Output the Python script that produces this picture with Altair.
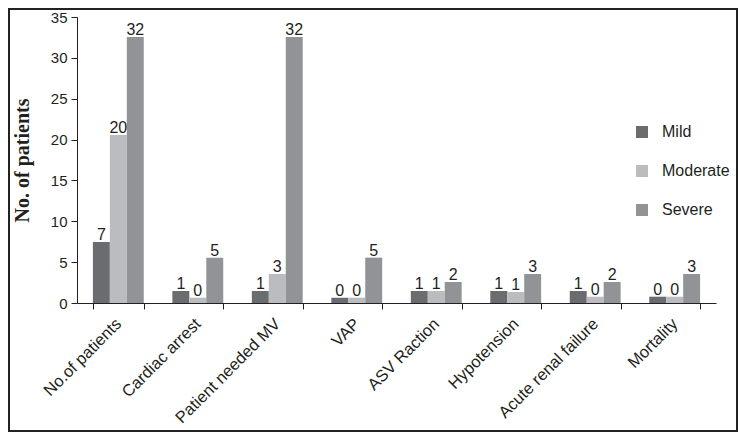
import altair as alt
import pandas as pd

categories = ["No.of patients", "Cardiac arrest", "Patient needed MV", "VAP",
              "ASV Raction", "Hypotension", "Acute renal failure", "Mortality"]
severities = ["Mild", "Moderate", "Severe"]
colors = ["#6b6c70", "#bbbcc0", "#929397"]

# bar heights as drawn in the picture
mild_heights = [7.47, 1.47, 1.47, 0.65, 1.47, 1.47, 1.47, 0.77]
moderate_heights = [20.56, 0.65, 3.55, 0.65, 1.47, 1.35, 0.77, 0.77]
severe_heights = [32.56, 5.55, 32.56, 5.55, 2.57, 3.55, 2.57, 3.55]

# value labels printed above the bars
mild_labels = [7, 1, 1, 0, 1, 1, 1, 0]
moderate_labels = [20, 0, 3, 0, 1, 1, 0, 0]
severe_labels = [32, 5, 32, 5, 2, 3, 2, 3]

y_ticks = [0, 5, 10, 15, 20, 25, 30, 35]

rows = []
for i, c in enumerate(categories):
    for s, h, l in zip(severities,
                       [mild_heights[i], moderate_heights[i], severe_heights[i]],
                       [mild_labels[i], moderate_labels[i], severe_labels[i]]):
        rows.append({"category": c, "severity": s, "height": h, "label": str(l)})
df = pd.DataFrame(rows)

TEXT = "#231f20"
FONT = "Liberation Sans"

x_enc = alt.X("category:N", sort=categories,
              scale=alt.Scale(paddingInner=0.36, paddingOuter=0.2),
              axis=alt.Axis(title=None, labelAngle=-45, labelAlign="right",
                            labelBaseline="middle", labelPadding=12,
                            tickBand="extent", tickSize=6, labelFontSize=16.5,
                            labelColor=TEXT, domainColor=TEXT, tickColor=TEXT,
                            labelFont=FONT))
xoff = alt.XOffset("severity:N", sort=severities, scale=alt.Scale(paddingInner=0, paddingOuter=0))
y_enc = alt.Y("height:Q", scale=alt.Scale(domain=[0, 35], nice=False),
              axis=alt.Axis(title="No. of patients", values=y_ticks, grid=False,
                            tickSize=6, labelPadding=4, labelFontSize=15,
                            labelColor=TEXT, domainColor=TEXT, tickColor=TEXT,
                            labelFont=FONT, titleFont="Liberation Serif",
                            titleFontSize=20, titleFontWeight="bold",
                            titleColor=TEXT, titlePadding=18))

bars = alt.Chart(df).mark_bar().encode(
    x=x_enc, xOffset=xoff, y=y_enc,
    color=alt.Color("severity:N", sort=severities,
                    scale=alt.Scale(domain=severities, range=colors),
                    legend=alt.Legend(title=None, orient="none", legendX=557,
                                      legendY=107, symbolType="square",
                                      symbolSize=144, symbolStrokeWidth=0,
                                      labelFontSize=16, labelFont=FONT,
                                      labelColor=TEXT, rowPadding=23,
                                      labelOffset=12, padding=0)),
)

texts = alt.Chart(df).mark_text(baseline="alphabetic", dy=-2, fontSize=16,
                                font=FONT, color=TEXT).encode(
    x=alt.X("category:N", sort=categories),
    xOffset=alt.XOffset("severity:N", sort=severities),
    y="height:Q",
    text="label:N",
)

border = alt.Chart(alt.Data(values=[{"a": 1}])).mark_rect(
    fill=None, stroke="#222222", strokeWidth=2, clip=False).encode(
    x=alt.value(-68), x2=alt.value(660), y=alt.value(-8), y2=alt.value(414))

chart = alt.layer(bars, texts, border).properties(
    width=639, height=286,
    autosize=alt.AutoSizeParams(type="none"),
    padding={"left": 69, "top": 9, "right": 22, "bottom": 129},
).configure_view(stroke=None)

chart.save("out.html", embed_options={"renderer": "svg", "actions": False})
